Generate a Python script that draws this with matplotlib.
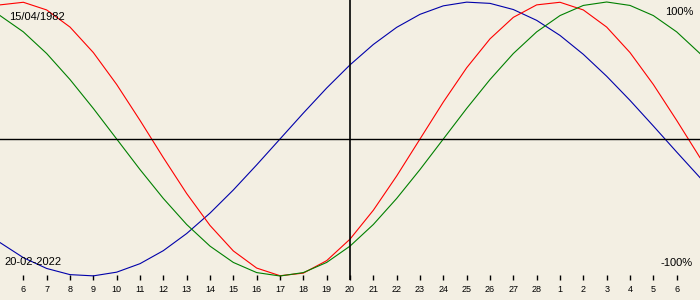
import matplotlib
matplotlib.use("Agg")
import matplotlib.pyplot as plt

# days relative to the target date (20-02-2022)
days = list(range(-15, 16))

# biorhythm values, one per day
physical = [0.979, 0.998, 0.942, 0.817, 0.631, 0.398, 0.136, -0.136, -0.398, -0.631,
            -0.817, -0.942, -0.998, -0.979, -0.888, -0.731, -0.520, -0.270, 0.0, 0.270,
            0.520, 0.731, 0.888, 0.979, 0.998, 0.942, 0.817, 0.631, 0.398, 0.136, -0.136]
emotional = [0.901, 0.782, 0.624, 0.434, 0.223, 0.0, -0.223, -0.434, -0.624, -0.782,
             -0.901, -0.975, -1.0, -0.975, -0.901, -0.782, -0.624, -0.434, -0.223, 0.0,
             0.223, 0.434, 0.624, 0.782, 0.901, 0.975, 1.0, 0.975, 0.901, 0.782, 0.624]
intellectual = [-0.756, -0.866, -0.945, -0.990, -0.999, -0.972, -0.910, -0.815, -0.690, -0.541,
                -0.372, -0.189, 0.0, 0.189, 0.372, 0.541, 0.690, 0.815, 0.910, 0.972,
                0.999, 0.990, 0.945, 0.866, 0.756, 0.618, 0.458, 0.282, 0.095, -0.095, -0.282]

tick_days = list(range(-14, 15))
tick_labels = [str(d) for d in range(6, 29)] + [str(d) for d in range(1, 7)]

birth = "15/04/1982"
target = "20-02-2022"

bg = "#f3efe3"
fig = plt.figure(figsize=(7, 3), dpi=100, facecolor=bg)
ax = fig.add_axes([0, 20/300, 1, 280/300], facecolor=bg)

ax.plot(days, intellectual, color="#0000aa", lw=0.8)
ax.plot(days, physical, color="#ff0000", lw=0.8)
ax.plot(days, emotional, color="#008000", lw=0.8)

ax.axhline(0, color="k", lw=1)
ax.axvline(0, color="k", lw=1.2)

ax.set_xlim(-15, 15)
ax.set_ylim((139 - 280) / 137, 139 / 137)
for s in ax.spines.values():
    s.set_visible(False)
ax.set_yticks([])
ax.set_xticks(tick_days)
ax.set_xticklabels(tick_labels, fontsize=6.5, family="Liberation Sans")
ax.tick_params(axis="x", direction="in", length=3.5, width=1, color="k", pad=3.5)

fig.text(9/700, 1 - 17/300, birth, fontsize=8, family="Liberation Sans", va="center", ha="left")
fig.text(693/700, 1 - 12/300, "100%", fontsize=8, family="Liberation Sans", va="center", ha="right")
fig.text(4/700, 1 - 262/300, target, fontsize=8, family="Liberation Sans", va="center", ha="left")
fig.text(693/700, 1 - 263/300, "-100%", fontsize=8, family="Liberation Sans", va="center", ha="right")

fig.savefig("out.png", dpi=100, facecolor=bg)
